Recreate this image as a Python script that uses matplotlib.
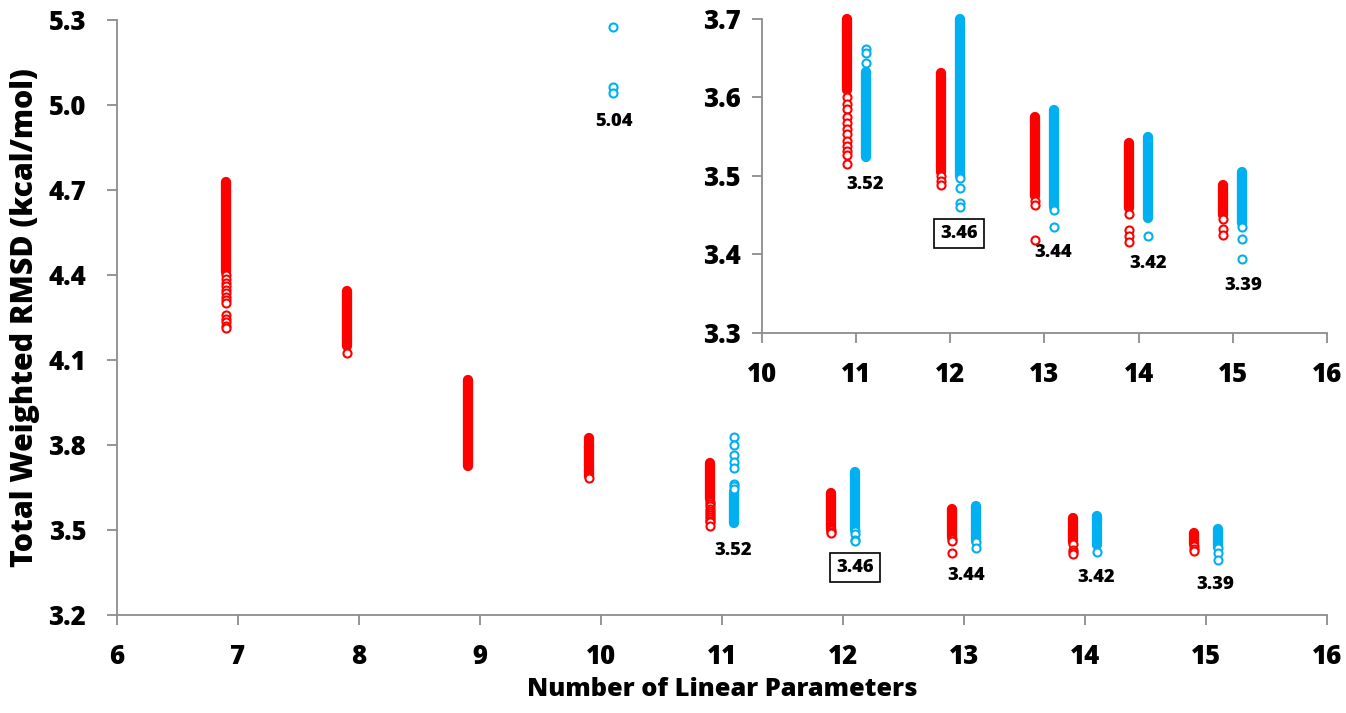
import matplotlib
matplotlib.use('Agg')
import matplotlib.pyplot as plt

# ------------------------------------------------------------------ #
#   RMSD vs number of linear parameters     #
# ------------------------------------------------------------------ #

# red series: dense part (lo, hi) plus the separate low points
red_n = [7, 8, 9, 10, 11, 12, 13, 14, 15]
red_lo = [4.41, 4.15, 3.725, 3.69, 3.61, 3.505, 3.475, 3.459, 3.45]
red_hi = [4.728, 4.344, 4.03, 3.825, 3.737, 3.631, 3.575, 3.542, 3.489]
red_pts = [
    [4.40, 4.385, 4.372, 4.36, 4.347, 4.335, 4.322, 4.31, 4.30, 4.259, 4.245, 4.234, 4.22, 4.213],
    [4.125],
    [],
    [3.685],
    [3.60, 3.592, 3.585, 3.575, 3.568, 3.56, 3.553, 3.545, 3.538, 3.532, 3.527, 3.515],
    [3.50, 3.493, 3.489],
    [3.468, 3.463, 3.418],
    [3.452, 3.431, 3.424, 3.416],
    [3.445, 3.432, 3.425],
]

# blue series
blue_n = [10, 11, 12, 13, 14, 15]
blue_lo = [None, 3.524, 3.50, 3.46, 3.446, 3.44]
blue_hi = [None, 3.633, 3.705, 3.584, 3.55, 3.505]
blue_pts = [
    [5.276, 5.064, 5.043],
    [3.828, 3.80, 3.765, 3.74, 3.72, 3.662, 3.657, 3.644],
    [3.497, 3.485, 3.466, 3.461],
    [3.457, 3.435],
    [3.423],
    [3.435, 3.42, 3.394],
]

# minimum labels (blue minima)
lab_txt = ['5.04', '3.52', '3.46', '3.44', '3.42', '3.39']
lab_main_x = [10.107, 11.09, 12.1, 13.02, 14.09, 15.08]
lab_main_y = [4.94, 3.429, 3.369, 3.341, 3.331, 3.306]
lab_ins_x = [None, 11.096, 12.096, 13.096, 14.096, 15.106]
lab_ins_y = [None, 3.489, 3.427, 3.402, 3.389, 3.361]

RED = '#FF0000'
BLUE = '#00B0F0'
GREY = '#8C8C8C'
FONT = 'Open Sans'

plt.rcParams['font.family'] = [FONT, 'DejaVu Sans']
plt.rcParams['font.weight'] = 'bold'

fig = plt.figure(figsize=(13.46, 7.13), dpi=100)
ax = fig.add_axes([0.0869, 0.1374, 0.899, 0.8346])
axi = fig.add_axes([0.5661, 0.533, 0.4198, 0.4404])


def draw(a, xmin=None, ymin=None, ymax=None):
    for series, off, col in [((red_n, red_lo, red_hi, red_pts), -0.1, RED),
                             ((blue_n, blue_lo, blue_hi, blue_pts), 0.1, BLUE)]:
        ns, los, his, pts = series
        for n, lo, hi, p in zip(ns, los, his, pts):
            x = n + off
            if xmin is not None and x < xmin:
                continue
            if lo is not None and (ymax is None or lo <= ymax):
                top = hi if ymax is None else min(hi, ymax)
                a.vlines(x, lo, top, colors=col, linewidth=7.4,
                         capstyle='round', clip_on=False, zorder=3)
            pp = [v for v in p if ymax is None or ymin <= v <= ymax]
            if pp:
                a.plot([x] * len(pp), pp, linestyle='None', marker='o',
                       markersize=5.8, markerfacecolor='white',
                       markeredgecolor=col, markeredgewidth=1.5,
                       clip_on=False, zorder=4)


def style(a, xl, yl, ypad):
    a.set_xlim(*xl)
    a.set_ylim(*yl)
    for s in ['top', 'right']:
        a.spines[s].set_visible(False)
    for s in ['left', 'bottom']:
        a.spines[s].set_color(GREY)
        a.spines[s].set_linewidth(1.3)
    a.tick_params(direction='out', length=7.2, width=1.3, color=GREY,
                  labelsize=18.5)
    a.tick_params(axis='x', pad=14)
    a.tick_params(axis='y', pad=ypad)
    for lab in a.get_xticklabels() + a.get_yticklabels():
        lab.set_fontweight(800)
    a.set_facecolor('none')


def boxed(t):
    # the 3.46 minimum is framed in the original
    if t == '3.46':
        return dict(boxstyle='square,pad=0.33', facecolor='white', edgecolor='black', linewidth=1.2)
    return None


# main panel
draw(ax)
ax.set_xticks(range(6, 17))
ax.set_yticks([3.2, 3.5, 3.8, 4.1, 4.4, 4.7, 5.0, 5.3])
ax.set_yticklabels(['3.2', '3.5', '3.8', '4.1', '4.4', '4.7', '5.0', '5.3'])
style(ax, (6, 16), (3.2, 5.3), 15)
ax.set_xlabel('Number of Linear Parameters', fontsize=18.3, fontweight=800, labelpad=5)
ax.set_ylabel('Total Weighted RMSD (kcal/mol)', fontsize=21.8, fontweight=800, labelpad=6)

for t, x, y in zip(lab_txt, lab_main_x, lab_main_y):
    ax.text(x, y, t, ha='center', va='center', fontsize=13.2,
            fontweight=800, bbox=boxed(t))

# zoomed inset
draw(axi, xmin=10, ymin=3.3, ymax=3.7)
axi.set_xticks(range(10, 17))
axi.set_yticks([3.3, 3.4, 3.5, 3.6, 3.7])
axi.set_yticklabels(['3.3', '3.4', '3.5', '3.6', '3.7'])
style(axi, (10, 16), (3.3, 3.7), 8)

for t, x, y in zip(lab_txt, lab_ins_x, lab_ins_y):
    if x is None:
        continue
    axi.text(x, y, t, ha='center', va='center', fontsize=13.2,
             fontweight=800, bbox=boxed(t))

fig.savefig('out.png', dpi=100)
plt.close()
